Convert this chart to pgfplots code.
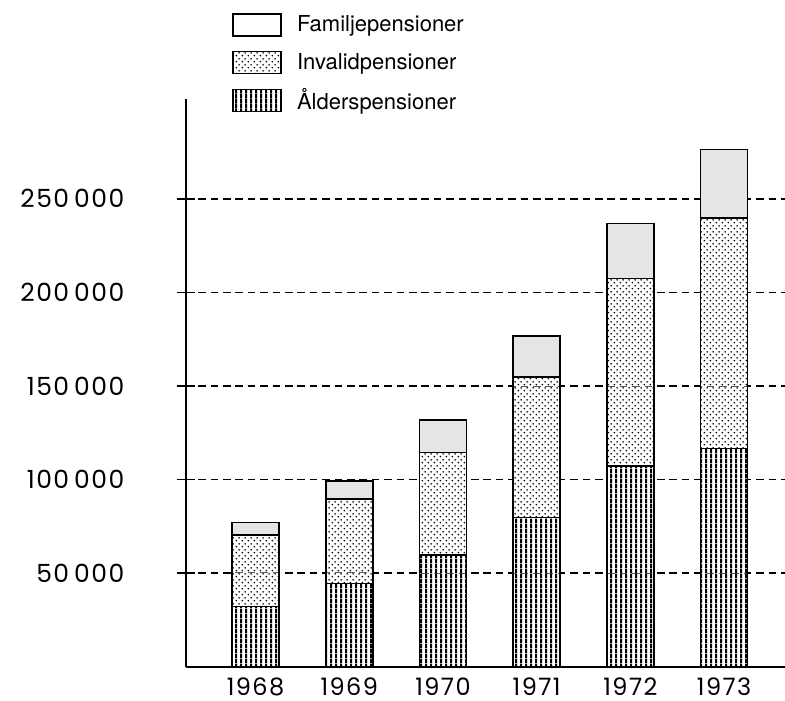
\documentclass[border=0pt]{standalone}
\usepackage{pgfplots}
\pgfplotsset{compat=1.18}
\usepackage{pgfplotstable}
\usepackage{fontspec}
\setmainfont{TeX Gyre Heros}
\newfontfamily\numfont[LetterSpace=6]{Poppins}
\usetikzlibrary{patterns}

\pgfdeclarepatterninherentlycolored{vstripes}{\pgfpointorigin}{\pgfqpoint{2.35pt}{2.35pt}}{\pgfqpoint{2.35pt}{2.35pt}}{%
  \pgfsetfillcolor{white}\pgfpathrectangle{\pgfpointorigin}{\pgfqpoint{2.35pt}{2.35pt}}\pgfusepath{fill}%
  \pgfsetfillcolor{black}\pgfpathrectangle{\pgfpointorigin}{\pgfqpoint{1.1pt}{2.35pt}}\pgfusepath{fill}}
\pgfdeclarepatterninherentlycolored{sdots}{\pgfpointorigin}{\pgfqpoint{3.1pt}{3.1pt}}{\pgfqpoint{3.1pt}{3.1pt}}{%
  \pgfsetfillcolor{white}\pgfpathrectangle{\pgfpointorigin}{\pgfqpoint{3.1pt}{3.1pt}}\pgfusepath{fill}%
  \pgfsetfillcolor{black}%
  \pgfpathcircle{\pgfqpoint{0.775pt}{0.775pt}}{0.5pt}%
  \pgfpathcircle{\pgfqpoint{2.325pt}{2.325pt}}{0.5pt}%
  \pgfusepath{fill}}

\pgfplotstableread{
x A I F
0 32300 38000 6700
1 44500 45000 9700
2 59600 54800 17300
3 79800 75000 21900
4 107200 100300 29400
5 116700 122900 36800
}\data

\begin{document}
\begin{tikzpicture}
\begin{axis}[name=ax, scale only axis, width=299.6pt, height=283.85pt,
 xmin=-0.745, xmax=5.65, ymin=0, ymax=303300,
 axis lines*=left, axis line style={line width=1pt, black},
 ybar stacked, bar width=23.5pt,
 xtick={0,1,2,3,4,5}, xticklabels={1968,1969,1970,1971,1972,1973},
 xtick style={draw=none},
 ytick={50000,100000,150000,200000,250000},
 yticklabels={50\hspace{2.5pt}000,100\hspace{2.5pt}000,150\hspace{2.5pt}000,200\hspace{2.5pt}000,250\hspace{2.5pt}000},
 scaled y ticks=false,
 ymajorgrids, grid style={line width=0.75pt, dash pattern=on 3.8pt off 2.4pt, black},
 tick align=center, major tick length=9pt, ytick style={line width=0.8pt, black},
 ticklabel style={font=\numfont\fontsize{12.5}{14}\selectfont},
 yticklabel style={inner sep=0pt, anchor=east, xshift=-26pt},
 xticklabel style={inner sep=0pt, anchor=north, yshift=-1.2pt, text height=8.6pt, text depth=0pt,
   font=\numfont\fontsize{12}{14}\selectfont},
 reverse legend,
 legend image code/.code={\draw[#1] (0pt,-5.5pt) rectangle (24pt,5.5pt);},
 legend style={at={(0.0773,1.152)}, anchor=north west, draw=none, fill=none,
   inner sep=0pt, row sep=7pt, font=\fontsize{11}{12}\selectfont,
   nodes={inner sep=0pt, anchor=west},
   /tikz/every odd column/.append style={column sep=7.5pt}},
]
\addplot[draw=black, line width=0.8pt, pattern=vstripes]
  table[x=x, y=A] {\data};
\addlegendentry{Ålderspensioner}
\addplot[draw=black, line width=0.8pt, pattern=sdots]
  table[x=x, y=I] {\data};
\addlegendentry{Invalidpensioner}
\addplot[draw=black, line width=0.8pt, fill=black!10,
  legend image code/.code={\draw[fill=white,draw=black,line width=0.8pt] (0pt,-5.5pt) rectangle (24pt,5.5pt);}]
  table[x=x, y=F] {\data};
\addlegendentry{Familjepensioner}
\end{axis}
\pgfresetboundingbox
\path ([xshift=-92.85pt,yshift=-16.8pt]ax.south west) rectangle ([yshift=49.5pt]ax.north east);
\end{tikzpicture}
\end{document}
